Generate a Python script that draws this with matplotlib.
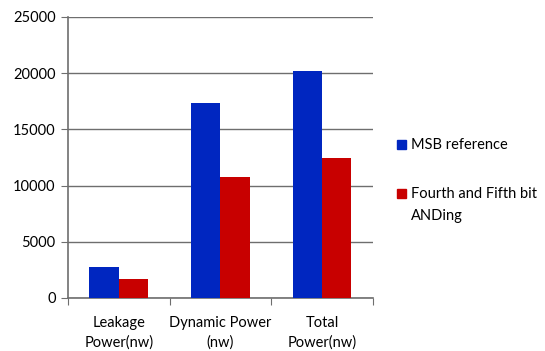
import numpy as np
import matplotlib.pyplot as plt
from matplotlib.patches import Rectangle

categories = ["Leakage\nPower(nw)", "Dynamic Power\n(nw)", "Total\nPower(nw)"]
msb_reference = [2800, 17300, 20200]
fourth_fifth_anding = [1650, 10800, 12450]
series_names = ["MSB reference", "Fourth and Fifth bit\nANDing"]
blue = "#0026c0"
red = "#c80000"

plt.rcParams['font.family'] = ['Lato', 'DejaVu Sans']

fig = plt.figure(figsize=(5.45, 3.51), dpi=100)
ax = fig.add_axes([0.125, 0.151, 0.559, 0.801])

x = np.arange(len(categories))
w = 0.29
ax.bar(x - w / 2, msb_reference, w, color=blue, zorder=3)
ax.bar(x + w / 2, fourth_fifth_anding, w, color=red, zorder=3)

ax.set_xlim(-0.5, len(categories) - 0.5)
ax.set_ylim(0, 25000)
ax.set_yticks(range(0, 25001, 5000))
ax.yaxis.grid(True, color="#6e6e6e", linewidth=1, zorder=0)

ax.set_xticks(np.arange(len(categories) + 1) - 0.5)
ax.set_xticklabels([])
ax.set_xticks(x, minor=True)
ax.set_xticklabels(categories, minor=True, fontsize=10.5, linespacing=1.5)
ax.tick_params(axis="x", which="minor", length=0, pad=13)
ax.tick_params(axis="x", which="major", length=5, color="#6e6e6e")
ax.tick_params(axis="y", length=5, color="#6e6e6e", labelsize=10.5, pad=4)

for side in ["top", "right"]:
    ax.spines[side].set_visible(False)
for side in ["left", "bottom"]:
    ax.spines[side].set_color("#6e6e6e")
    ax.spines[side].set_linewidth(1.2)

# legend drawn by hand so the square sits on the first text line
for name, color, yc in zip(series_names, [blue, red], [0.588, 0.448]):
    fig.add_artist(Rectangle((0.728, yc - 0.0128), 0.0165, 0.0256,
                             transform=fig.transFigure, color=color))
    fig.text(0.754, yc + 0.018, name, fontsize=10.5, va="top",
             ha="left", linespacing=1.65)

fig.savefig("out.png", dpi=100)
